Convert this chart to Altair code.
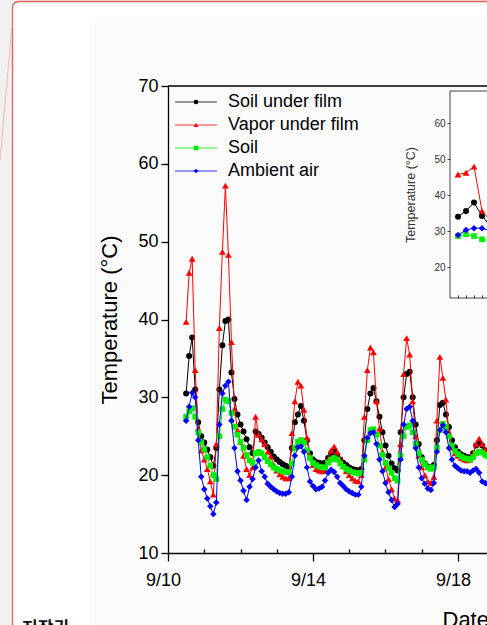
import altair as alt
import pandas as pd

FONT = "Liberation Sans"

SERIES = ["Soil under film", "Vapor under film", "Soil", "Ambient air"]
COLORS = ["#000000", "#ff0000", "#00ee00", "#0000ff"]
SHAPES = ["circle", "triangle-up", "square", "diamond"]
SIZES = [36, 46, 32, 42]

# readings every 2 h, starting 9/10 12:00 (day 0.5)
START_DAY = 0.5
STEP_DAY = 1 / 12

SOIL_UNDER_FILM = [
    30.5, 35.3, 37.7, 31.0, 26.8, 25.0,
    24.2, 23.3, 22.3, 21.2, 23.5, 31.0, 36.7, 39.8, 40.0, 33.2, 29.8, 27.8,
    26.5, 25.6, 24.6, 23.6, 22.8, 25.6, 25.3, 24.8, 24.2, 23.6, 23.0, 22.4,
    22.0, 21.7, 21.4, 21.2, 21.0, 23.5, 26.8, 27.8, 28.9, 27.0, 24.5, 22.8,
    22.0, 21.7, 21.6, 21.5, 21.6, 22.2, 22.8, 23.1, 22.6, 22.0, 21.6, 21.3,
    21.0, 20.8, 20.7, 20.6, 20.8, 24.5, 28.5, 30.5, 31.2, 29.5, 27.5, 25.5,
    23.8, 22.5, 21.5, 20.9, 20.6, 25.5, 30.0, 33.0, 33.3, 30.0, 26.5, 24.0,
    22.3, 21.5, 21.1, 21.0, 21.3, 24.5, 29.0, 29.3, 27.8, 26.2, 24.5, 23.6,
    23.0, 22.7, 22.5, 22.3, 22.3, 22.8, 23.8, 24.2, 23.8, 23.2, 22.8, 22.5,
]
VAPOR_UNDER_FILM = [
    39.7, 46.0, 47.8, 33.5, 26.0, 23.2,
    22.0, 20.8, 19.2, 17.5, 24.0, 38.9, 48.7, 57.2, 48.3, 37.1, 28.5, 25.8,
    24.3, 22.5, 20.8, 20.0, 21.0, 27.5, 25.2, 24.6, 24.0, 23.0, 22.4, 21.3,
    20.6, 20.1, 19.8, 19.6, 19.6, 25.4, 29.5, 32.0, 31.5, 28.4, 24.8, 22.5,
    21.3, 20.8, 20.6, 20.5, 20.6, 22.0, 23.2, 23.7, 23.0, 22.0, 21.2, 20.5,
    20.0, 19.6, 19.3, 19.2, 20.0, 27.5, 33.5, 36.4, 35.8, 29.5, 26.0, 23.0,
    21.0, 19.5, 18.2, 17.0, 16.8, 24.0, 33.0, 37.6, 35.5, 29.5, 25.0, 22.5,
    21.0, 20.0, 19.2, 19.0, 19.8, 27.0, 35.2, 32.5, 29.7, 25.5, 23.5, 22.8,
    22.5, 22.2, 22.0, 21.9, 22.0, 22.8, 24.0, 24.7, 24.0, 23.2, 22.6, 22.2,
]
SOIL = [
    27.5, 28.2, 28.6, 27.5, 25.5, 24.2,
    23.3, 22.3, 21.2, 20.0, 19.5, 25.0, 28.5, 29.7, 29.5, 28.0, 26.2, 25.2,
    24.3, 23.5, 22.6, 21.9, 21.6, 22.8, 23.0, 22.8, 22.3, 21.8, 21.4, 21.0,
    20.8, 20.6, 20.5, 20.4, 20.4, 21.5, 23.5, 24.3, 24.5, 24.2, 23.2, 22.2,
    21.6, 21.3, 21.1, 21.0, 21.0, 21.6, 22.0, 22.2, 22.0, 21.5, 21.1, 20.8,
    20.6, 20.4, 20.3, 20.2, 20.3, 22.0, 24.5, 25.8, 25.9, 25.2, 23.8, 22.6,
    21.6, 20.9, 20.3, 19.6, 19.3, 22.5, 25.0, 26.2, 26.4, 25.5, 24.0, 22.8,
    22.0, 21.4, 21.0, 20.8, 21.0, 23.5, 25.8, 26.6, 26.2, 25.0, 23.8, 23.1,
    22.7, 22.4, 22.2, 22.1, 22.0, 22.3, 22.8, 23.0, 22.9, 22.6, 22.4, 22.2,
]
AMBIENT_AIR = [
    27.0, 28.8, 30.6, 30.0, 24.5, 19.8,
    18.2, 17.0, 16.0, 15.0, 16.5, 26.5, 30.5, 31.5, 32.0, 27.0, 23.5, 20.5,
    19.3, 18.0, 16.8, 18.5, 19.5, 21.0, 21.9, 20.5, 19.8, 18.9, 18.5, 18.2,
    17.9, 17.7, 17.6, 17.6, 17.8, 19.8, 22.5, 23.6, 23.7, 23.0, 21.0, 19.2,
    18.6, 18.2, 18.3, 18.5, 19.3, 20.3, 20.7, 20.4, 19.8, 19.0, 18.6, 18.2,
    17.9, 17.7, 17.5, 17.5, 18.5, 22.5, 24.8, 25.4, 25.5, 24.0, 22.0, 20.5,
    19.0, 17.8, 16.8, 15.9, 16.3, 22.0, 26.5, 28.5, 28.8, 27.0, 23.5, 21.0,
    19.6, 18.9, 18.3, 18.1, 19.0, 23.0, 25.8, 26.4, 25.5, 23.5, 22.0, 21.2,
    20.9, 20.6, 20.5, 20.5, 20.3, 20.6, 20.8, 20.3, 19.2, 19.0, 18.8, 18.6,
]

X_TICK_DAYS = [0, 4, 8]
X_TICK_LABELS = ["9/10", "9/14", "9/18"]
MINOR_DAYS = [1, 2, 3, 5, 6, 7, 9]
Y_TICKS = [10, 20, 30, 40, 50, 60, 70]

# inset (first readings, zoomed)
INSET_IDX = [0, 1, 2, 3, 4]
INSET_SOIL_UNDER_FILM = [34.0, 35.6, 37.9, 34.2, 31.5]
INSET_VAPOR = [45.7, 46.2, 47.9, 35.6, 33.0]
INSET_SOIL = [28.6, 29.1, 28.6, 27.7, 27.3]
INSET_AIR = [28.9, 30.3, 30.8, 30.8, 30.0]
INSET_Y_TICKS = [20, 30, 40, 50, 60]
INSET_X_DOMAIN = [-1, 10]
INSET_Y_DOMAIN = [11.4, 68.9]

W, H = 319, 467
X_DOMAIN = [0, 8.8]
Y_DOMAIN = [10, 70]

days = [START_DAY + i * STEP_DAY for i in range(len(SOIL_UNDER_FILM))]

x_main = alt.Scale(domain=X_DOMAIN, nice=False, zero=False)
y_main = alt.Scale(domain=Y_DOMAIN, nice=False, zero=False)

label_expr = "".join(
    f"datum.value == {d} ? '{l}' : " for d, l in zip(X_TICK_DAYS, X_TICK_LABELS)
) + "''"

x_axis = alt.Axis(
    orient="bottom", values=X_TICK_DAYS, labelExpr=label_expr, grid=False, zindex=2,
    tickSize=8, tickWidth=1.3, tickColor="black", domainColor="black", domainWidth=1.3,
    labelFontSize=18, labelColor="black", labelPadding=10.5, labelOffset=-5,
    labelFlush=False, labelOverlap=False,
    title="Date", titleFontSize=22, titleFontWeight="normal", titleColor="black",
    titleX=274, titleY=73.5, titleAlign="left", titleBaseline="alphabetic",
)
y_axis = alt.Axis(
    orient="left", values=Y_TICKS, grid=False, zindex=2,
    tickSize=7, tickWidth=1.3, tickColor="black", domainColor="black", domainWidth=1.3,
    labelFontSize=18, labelColor="black", labelPadding=3, labelOverlap=False,
    title="Temperature (°C)", titleFontSize=22, titleFontWeight="normal",
    titleColor="black", titlePadding=16,
)

main_layers = []
for vals, color, shape, size in zip(
    [SOIL_UNDER_FILM, VAPOR_UNDER_FILM, SOIL, AMBIENT_AIR], COLORS, SHAPES, SIZES
):
    df = pd.DataFrame({"day": days, "temp": vals})
    base = alt.Chart(df).encode(
        x=alt.X("day:Q", scale=x_main, axis=x_axis),
        y=alt.Y("temp:Q", scale=y_main, axis=y_axis),
    )
    main_layers.append(base.mark_line(color=color, strokeWidth=1, clip=True))
    main_layers.append(
        base.mark_point(shape=shape, filled=True, color=color, size=size, opacity=1, clip=True)
    )
main = alt.layer(*main_layers)

# ---- inset ----
ix = alt.Scale(domain=INSET_X_DOMAIN, range=[282, 370], nice=False, zero=False)
iy = alt.Scale(domain=INSET_Y_DOMAIN, range=[212, 5], nice=False, zero=False)
ix_axis = alt.Axis(
    orient="top", offset=-212, values=[0, 1, 2, 3, 4, 5], labels=False, domain=False,
    tickSize=3, tickColor="#444444", grid=False, title="", zindex=2,
)
iy_axis = alt.Axis(
    orient="left", offset=-282, values=INSET_Y_TICKS, domain=False, grid=False, zindex=2,
    tickSize=3, tickColor="#444444", labelFontSize=10, labelColor="#333333",
    labelPadding=2, title="Temperature (°C)", titleFontSize=12.5,
    titleFontWeight="normal", titleColor="#333333", titlePadding=16,
)
frame_df = pd.DataFrame({
    "x0": [INSET_X_DOMAIN[0]], "x1": [INSET_X_DOMAIN[1]],
    "y0": [INSET_Y_DOMAIN[0]], "y1": [INSET_Y_DOMAIN[1]],
})
inset_layers = [
    alt.Chart(frame_df).mark_rect(fill="white", stroke="#444444", strokeWidth=1).encode(
        x=alt.X("x0:Q", scale=ix, axis=ix_axis), x2="x1:Q",
        y=alt.Y("y0:Q", scale=iy, axis=iy_axis), y2="y1:Q",
    )
]
for vals, color, shape, size in zip(
    [INSET_SOIL_UNDER_FILM, INSET_VAPOR, INSET_SOIL, INSET_AIR], COLORS, SHAPES, SIZES
):
    df = pd.DataFrame({"i": INSET_IDX, "temp": vals})
    base = alt.Chart(df).encode(
        x=alt.X("i:Q", scale=ix, axis=ix_axis),
        y=alt.Y("temp:Q", scale=iy, axis=iy_axis),
    )
    inset_layers.append(base.mark_line(color=color, strokeWidth=1))
    inset_layers.append(
        base.mark_point(shape=shape, filled=True, color=color, size=size, opacity=1)
    )
inset = alt.layer(*inset_layers)

# ---- legend ----
leg_df = pd.DataFrame({"series": SERIES})
leg_y = alt.Y(
    "series:N",
    scale=alt.Scale(type="point", domain=SERIES, range=[16, 85], padding=0),
    axis=None,
)
color_enc = alt.Color("series:N", scale=alt.Scale(domain=SERIES, range=COLORS), legend=None)
shape_enc = alt.Shape("series:N", scale=alt.Scale(domain=SERIES, range=SHAPES), legend=None)
legend = alt.layer(
    alt.Chart(leg_df).mark_rule(strokeWidth=1, opacity=0.8).encode(
        x=alt.value(7), x2=alt.value(49), y=leg_y, color=color_enc
    ),
    alt.Chart(leg_df).mark_point(filled=True, size=22, opacity=1).encode(
        x=alt.value(28), y=leg_y, color=color_enc, shape=shape_enc
    ),
    alt.Chart(leg_df).mark_text(
        align="left", baseline="middle", fontSize=18, color="black", font=FONT
    ).encode(x=alt.value(60), y=leg_y, text="series:N"),
)

# ---- minor ticks (inward, on bottom axis) ----
minor = alt.Chart(pd.DataFrame({"d": MINOR_DAYS})).mark_point(opacity=0).encode(
    x=alt.X(
        "d:Q",
        scale=alt.Scale(domain=X_DOMAIN, nice=False, zero=False),
        axis=alt.Axis(
            orient="top", offset=-H, values=MINOR_DAYS, labels=False, domain=False,
            tickSize=4, tickWidth=1.3, tickColor="black", grid=False, title="", zindex=2,
        ),
    ),
    y=alt.value(0),
)

# ---- page decoration ----
one = pd.DataFrame({"k": [0]})
card = alt.Chart(one).mark_rect(
    fill="white", stroke="#e35d5d", strokeWidth=1.3, cornerRadius=6
).encode(x=alt.value(-155.5), x2=alt.value(W + 40), y=alt.value(-84.5), y2=alt.value(H + 80))
img_bg = alt.Chart(one).mark_rect(fill="#fbfbfb").encode(
    x=alt.value(-78), x2=alt.value(W + 40), y=alt.value(-69), y2=alt.value(H + 80)
)
diag = alt.Chart(one).mark_rule(stroke="#f2b8b8", strokeWidth=1).encode(
    x=alt.value(-156), y=alt.value(-61), x2=alt.value(-168), y2=alt.value(74)
)
kor = alt.Chart(one).mark_text(
    align="left", baseline="alphabetic", fontSize=17, fontWeight="bold",
    font="Noto Sans CJK KR", color="#111111",
).encode(x=alt.value(-146), y=alt.value(548), text=alt.value("저작권"))

top_line = alt.Chart(one).mark_rule(color="black", strokeWidth=1.3).encode(
    x=alt.value(0), x2=alt.value(W), y=alt.value(0)
)

chart = alt.layer(
    card, img_bg, diag, kor, main, inset, legend, minor, top_line
).resolve_scale(
    x="independent", y="independent"
).properties(
    width=W, height=H,
    padding={"left": 168, "top": 86, "right": 0, "bottom": 72},
    autosize=alt.AutoSizeParams(type="none"),
    background="#f1f1f1",
).configure_view(
    stroke="transparent"
).configure_axis(
    labelFont=FONT, titleFont=FONT
).configure_text(font=FONT)

chart.save("out.html", embed_options={"renderer": "svg", "actions": False})
